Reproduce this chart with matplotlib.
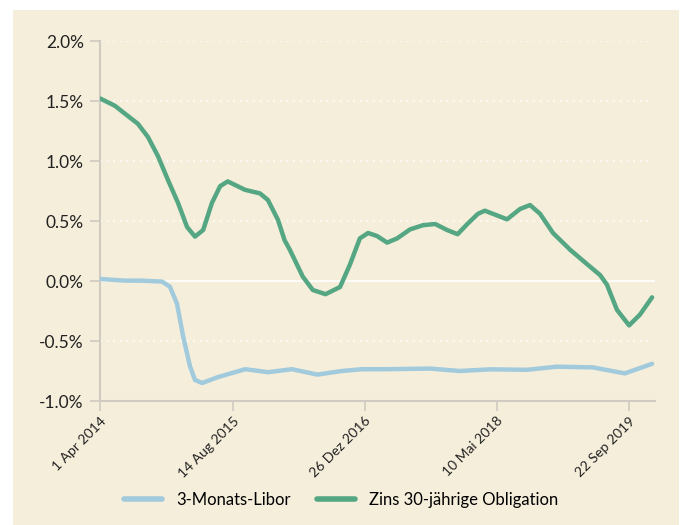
import matplotlib
matplotlib.use("Agg")
import matplotlib.pyplot as plt
import numpy as np
from matplotlib.patches import Rectangle
from matplotlib.ticker import FuncFormatter

plt.rcParams['font.family'] = ['Lato', 'DejaVu Sans']

green_dates = ["2014-04-01", "2014-05-26", "2014-07-14", "2014-08-21", "2014-09-28", "2014-11-05",
               "2014-12-13", "2015-01-20", "2015-02-23", "2015-03-25", "2015-04-25", "2015-05-28",
               "2015-06-28", "2015-07-27", "2015-09-30", "2015-11-26", "2015-12-26", "2016-02-02",
               "2016-02-27", "2016-03-18", "2016-05-06", "2016-06-13", "2016-07-31", "2016-09-24",
               "2016-11-01", "2016-12-08", "2017-01-08", "2017-02-11", "2017-03-21", "2017-04-28",
               "2017-06-16", "2017-08-04", "2017-09-19", "2017-11-03", "2017-12-13", "2018-01-21",
               "2018-02-28", "2018-03-26", "2018-06-18", "2018-08-06", "2018-09-13", "2018-10-21",
               "2018-12-09", "2019-02-12", "2019-04-17", "2019-06-05", "2019-07-01", "2019-08-08",
               "2019-09-23", "2019-11-03", "2019-12-19"]
green_values = [1.52, 1.46, 1.375, 1.31, 1.20, 1.04,
                0.84, 0.65, 0.45, 0.37, 0.425, 0.65,
                0.79, 0.83, 0.76, 0.73, 0.675, 0.51,
                0.34, 0.26, 0.036, -0.075, -0.11, -0.05,
                0.14, 0.355, 0.40, 0.375, 0.32, 0.355,
                0.43, 0.465, 0.475, 0.425, 0.39, 0.48,
                0.56, 0.586, 0.514, 0.60, 0.633, 0.56,
                0.40, 0.26, 0.14, 0.05, -0.03, -0.24,
                -0.37, -0.28, -0.136]

blue_dates = ["2014-04-01", "2014-07-03", "2014-09-05", "2014-11-20", "2014-12-20", "2015-01-16",
              "2015-02-08", "2015-03-06", "2015-03-25", "2015-04-21", "2015-06-21", "2015-10-01",
              "2015-12-26", "2016-03-26", "2016-06-30", "2016-10-01", "2016-12-16", "2017-03-13",
              "2017-08-31", "2017-12-22", "2018-04-15", "2018-09-02", "2018-12-24", "2019-05-09",
              "2019-09-07", "2019-12-19"]
blue_values = [0.017, 0.003, 0.003, -0.005, -0.047, -0.19,
               -0.46, -0.71, -0.825, -0.85, -0.80, -0.735,
               -0.76, -0.735, -0.78, -0.75, -0.735, -0.735,
               -0.73, -0.75, -0.736, -0.74, -0.714, -0.72,
               -0.77, -0.69]

tick_dates = ["2014-04-01", "2015-08-14", "2016-12-26", "2018-05-10", "2019-09-22"]
tick_labels = ["1 Apr 2014", "14 Aug 2015", "26 Dez 2016", "10 Mai 2018", "22 Sep 2019"]
y_ticks = [-1.0, -0.5, 0.0, 0.5, 1.0, 1.5, 2.0]

series_names = ["3-Monats-Libor", "Zins 30-jährige Obligation"]

BG = "#f5eedb"
GREEN = "#55a783"
BLUE = "#a2cadd"
AXC = "#cfcac2"

W, H = 682, 525
fig = plt.figure(figsize=(W / 100, H / 100), dpi=100)
fig.patch.set_facecolor("white")
bg = Rectangle((13 / W, 0), (679 - 13) / W, (525 - 10) / H,
               transform=fig.transFigure, facecolor=BG, edgecolor="none", zorder=-10)
fig.add_artist(bg)

left, right, top, bottom = 100.4, 655, 41, 401
ax = fig.add_axes([left / W, 1 - bottom / H, (right - left) / W, (bottom - top) / H])
ax.set_zorder(1)
ax.set_facecolor("none")

gd = np.array(green_dates, dtype="datetime64[D]")
bd = np.array(blue_dates, dtype="datetime64[D]")
td = np.array(tick_dates, dtype="datetime64[D]")

ax.plot(bd, blue_values, color=BLUE, lw=3.2, solid_capstyle="round", solid_joinstyle="round", zorder=3,
        label=series_names[0])
ax.plot(gd, green_values, color=GREEN, lw=3.2, solid_capstyle="round", solid_joinstyle="round", zorder=4,
        label=series_names[1])

ax.set_xlim(np.datetime64("2014-04-01"), np.datetime64("2019-12-30"))
ax.set_ylim(-1.0, 2.0)

for v in y_ticks:
    if v == 0.0:
        ax.axhline(v, color="white", lw=1.2, zorder=2)
    elif v > -1.0:
        ax.axhline(v, xmax=(652 - left) / (right - left), color="white", lw=1.2,
                   linestyle=(0, (1, 3)), zorder=2)

for s in ["top", "right"]:
    ax.spines[s].set_visible(False)
ax.spines["left"].set_color(AXC)
ax.spines["bottom"].set_color(AXC)
ax.spines["left"].set_linewidth(1.5)
ax.spines["bottom"].set_linewidth(1.5)

ax.set_yticks(y_ticks)
ax.yaxis.set_major_formatter(FuncFormatter(lambda v, p: f"{v:.1f}%"))
ax.tick_params(axis="y", length=7, width=1.2, color=AXC, labelsize=12.5, labelcolor="#222222", pad=5)

ax.set_xticks(td)
ax.set_xticklabels(tick_labels, rotation=45, ha="right", rotation_mode="anchor")
ax.tick_params(axis="x", length=7, width=1.2, color=AXC, labelsize=10, labelcolor="#222222", pad=3)

leg = fig.legend(loc="center", bbox_to_anchor=(0.5, 1 - 500 / H), ncol=2, frameon=False,
                 fontsize=12, handlelength=2.3, columnspacing=1.6, handletextpad=0.8)
for line in leg.get_lines():
    line.set_linewidth(4)

fig.savefig("out.png", dpi=100, facecolor="white")
